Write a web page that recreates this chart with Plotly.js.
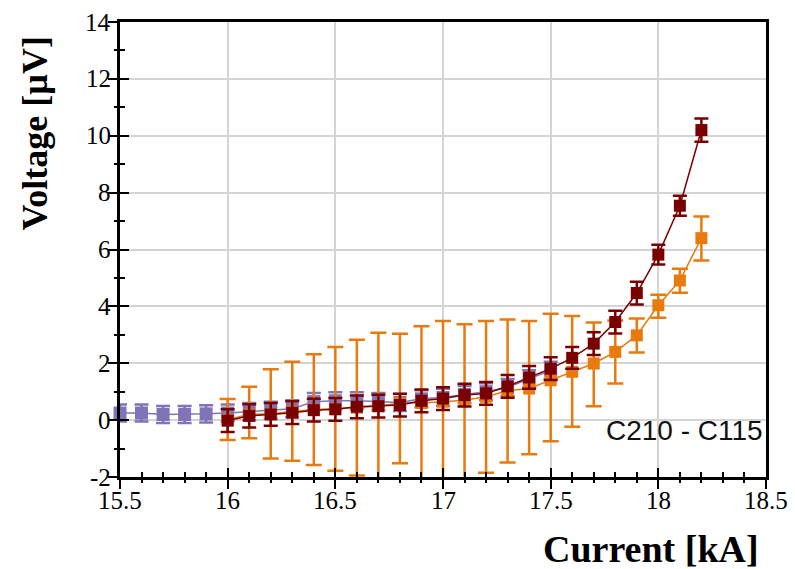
<!DOCTYPE html>
<html>
<head>
<meta charset="utf-8">
<script src="https://cdn.plot.ly/plotly-3.0.1.min.js"></script>
<style>html,body{margin:0;padding:0;background:#fff;}#chart{width:795px;height:569px;}</style>
</head>
<body>
<div id="chart"></div>
<script>
// Current [kA]
var xPurple = [15.5, 15.6, 15.7, 15.8, 15.9, 16.0, 16.1, 16.2, 16.3, 16.4, 16.5, 16.6, 16.7, 16.8, 16.9, 17.0, 17.1, 17.2, 17.3, 17.4, 17.5];
var purple = [0.25, 0.25, 0.2, 0.2, 0.22, 0.25, 0.3, 0.35, 0.4, 0.65, 0.68, 0.68, 0.65, 0.62, 0.75, 0.8, 0.9, 1.0, 1.15, 1.45, 1.75];
var purpleErr = [0.3, 0.3, 0.3, 0.3, 0.3, 0.3, 0.3, 0.3, 0.3, 0.3, 0.3, 0.3, 0.3, 0.3, 0.3, 0.3, 0.3, 0.3, 0.3, 0.3, 0.3];

var xMain = [16.0, 16.1, 16.2, 16.3, 16.4, 16.5, 16.6, 16.7, 16.8, 16.9, 17.0, 17.1, 17.2, 17.3, 17.4, 17.5, 17.6, 17.7, 17.8, 17.9, 18.0, 18.1, 18.2];
var red = [-0.02, 0.15, 0.2, 0.26, 0.35, 0.38, 0.47, 0.49, 0.53, 0.68, 0.76, 0.88, 0.94, 1.19, 1.5, 1.81, 2.19, 2.69, 3.45, 4.47, 5.82, 7.54, 10.2];
var redErr = [0.4, 0.41, 0.4, 0.4, 0.4, 0.4, 0.4, 0.4, 0.4, 0.4, 0.4, 0.4, 0.4, 0.4, 0.4, 0.4, 0.38, 0.4, 0.4, 0.4, 0.35, 0.35, 0.41];

var orange = [0.02, 0.2, 0.22, 0.3, 0.37, 0.4, 0.44, 0.49, 0.6, 0.6, 0.65, 0.7, 0.82, 1.03, 1.11, 1.4, 1.7, 1.99, 2.4, 2.98, 4.04, 4.91, 6.4];
var orangeErrPlus = [0.72, 0.97, 1.57, 1.75, 1.95, 2.17, 2.39, 2.58, 2.44, 2.7, 2.84, 2.67, 2.67, 2.51, 2.38, 2.34, 1.96, 1.44, 1.1, 0.59, 0.37, 0.41, 0.76];
var orangeErrMinus = [0.72, 0.84, 1.57, 1.73, 1.95, 2.18, 2.39, 2.59, 2.12, 2.8, 2.85, 2.8, 2.67, 2.52, 2.31, 2.14, 1.93, 1.5, 1.11, 0.6, 0.44, 0.43, 0.79];

var xTicks = [15.5, 16, 16.5, 17, 17.5, 18, 18.5];
var xTickText = ['15.5', '16', '16.5', '17', '17.5', '18', '18.5'];
var yTicks = [-2, 0, 2, 4, 6, 8, 10, 12, 14];
var yTickText = ['-2', '0', '2', '4', '6', '8', '10', '12', '14'];

var annoText = 'C210 - C115';
var xTitle = 'Current [kA]';
var yTitle = 'Voltage [\u00b5V]';

var cPurple = 'rgb(118,104,178)';
var cRed = 'rgb(122,0,0)';
var cOrange = 'rgb(232,122,14)';

var traces = [
  {
    x: xPurple, y: purple, type: 'scatter', mode: 'lines+markers',
    line: {color: cPurple, width: 1.5},
    marker: {symbol: 'square', size: 13, color: cPurple},
    opacity: 0.92,
    error_y: {type: 'data', array: purpleErr, visible: true, color: cPurple, thickness: 2.5, width: 7},
    cliponaxis: false, hoverinfo: 'x+y'
  },
  {
    x: xMain, y: orange, type: 'scatter', mode: 'lines+markers',
    line: {color: cOrange, width: 1.5},
    marker: {symbol: 'square', size: 12, color: cOrange},
    error_y: {type: 'data', symmetric: false, array: orangeErrPlus, arrayminus: orangeErrMinus, visible: true, color: cOrange, thickness: 2.5, width: 8},
    cliponaxis: false, hoverinfo: 'x+y'
  },
  {
    x: xMain, y: red, type: 'scatter', mode: 'lines+markers',
    line: {color: cRed, width: 1.5},
    marker: {symbol: 'square', size: 12, color: cRed},
    error_y: {type: 'data', array: redErr, visible: true, color: cRed, thickness: 2.5, width: 7},
    cliponaxis: false, hoverinfo: 'x+y'
  },
  {x: [15.5], y: [null], xaxis: 'x2', yaxis: 'y2', type: 'scatter', mode: 'markers', showlegend: false, hoverinfo: 'skip'},
  {x: [15.5], y: [null], xaxis: 'x3', yaxis: 'y3', type: 'scatter', mode: 'markers', showlegend: false, hoverinfo: 'skip'}
];

var serif = 'Liberation Serif';

var annotations = [
  {
    text: annoText, xref: 'x', yref: 'y', x: 18.5, y: -0.38, xanchor: 'right', yanchor: 'middle',
    xshift: -1, showarrow: false,
    font: {family: 'Liberation Sans', size: 28, color: '#111'}
  },
  {
    text: '<b>' + xTitle + '</b>', xref: 'paper', yref: 'paper', x: 0.992, y: -0.158,
    xanchor: 'right', yanchor: 'middle', showarrow: false,
    font: {family: serif, size: 38, color: '#000'}
  },
  {
    text: '<b>' + yTitle + '</b>', xref: 'paper', yref: 'paper', x: -0.1316, y: 0.755,
    xanchor: 'center', yanchor: 'middle', textangle: -90, showarrow: false,
    font: {family: serif, size: 36, color: '#000'}
  }
];
// tick labels placed through the axes' own scales
xTicks.forEach(function (v, i) {
  annotations.push({text: xTickText[i], xref: 'x', yref: 'y', x: v, y: -2, xanchor: 'center', yanchor: 'top',
    yshift: -8, showarrow: false, font: {family: serif, size: 25, color: '#000'}});
});
yTicks.forEach(function (v, i) {
  annotations.push({text: yTickText[i], xref: 'x', yref: 'y', x: 15.5, y: v, xanchor: 'right', yanchor: 'middle',
    xshift: -7, showarrow: false, font: {family: serif, size: 25, color: '#000'}});
});

var layout = {
  width: 795, height: 569,
  margin: {l: 120, r: 29, t: 22, b: 92},
  paper_bgcolor: '#fff', plot_bgcolor: '#fff',
  showlegend: false,
  xaxis: {
    range: [15.5, 18.5], tickmode: 'array', tickvals: xTicks, showticklabels: false,
    showgrid: true, gridcolor: '#d4d4d4', gridwidth: 2,
    zeroline: false, showline: true, linecolor: '#000', linewidth: 2.5, mirror: true,
    ticks: 'outside', ticklen: 9, tickwidth: 2, tickcolor: '#000'
  },
  yaxis: {
    range: [-2, 14], tickmode: 'array', tickvals: yTicks, showticklabels: false,
    showgrid: true, gridcolor: '#d4d4d4', gridwidth: 2,
    zeroline: false, showline: true, linecolor: '#000', linewidth: 2.5, mirror: true,
    ticks: 'outside', ticklen: 9, tickwidth: 2, tickcolor: '#000'
  },
  xaxis2: {
    overlaying: 'x', anchor: 'y2', side: 'bottom', range: [15.5, 18.5],
    tickmode: 'array', tickvals: xTicks, showticklabels: false, showgrid: false, zeroline: false, showline: false,
    ticks: 'inside', ticklen: 9, tickwidth: 2, tickcolor: '#000',
    minor: {dtick: 0.1, ticks: 'inside', ticklen: 5, tickwidth: 2, tickcolor: '#000', showgrid: false}
  },
  yaxis2: {
    overlaying: 'y', anchor: 'x2', side: 'left', range: [-2, 14],
    tickmode: 'array', tickvals: yTicks, showticklabels: false, showgrid: false, zeroline: false, showline: false,
    ticks: 'inside', ticklen: 9, tickwidth: 2, tickcolor: '#000',
    minor: {dtick: 1, ticks: 'inside', ticklen: 5, tickwidth: 2, tickcolor: '#000', showgrid: false}
  },
  xaxis3: {
    overlaying: 'x', anchor: 'y3', side: 'bottom', range: [15.5, 18.5],
    tickmode: 'linear', tick0: 15.5, dtick: 0.1, showticklabels: false, showgrid: false, zeroline: false, showline: false,
    ticks: 'outside', ticklen: 5, tickwidth: 2, tickcolor: '#000'
  },
  yaxis3: {
    overlaying: 'y', anchor: 'x3', side: 'left', range: [-2, 14],
    tickmode: 'linear', tick0: -2, dtick: 1, showticklabels: false, showgrid: false, zeroline: false, showline: false,
    ticks: 'outside', ticklen: 5, tickwidth: 2, tickcolor: '#000'
  },
  annotations: annotations
};

Plotly.newPlot('chart', traces, layout, {displayModeBar: false});
</script>
</body>
</html>
